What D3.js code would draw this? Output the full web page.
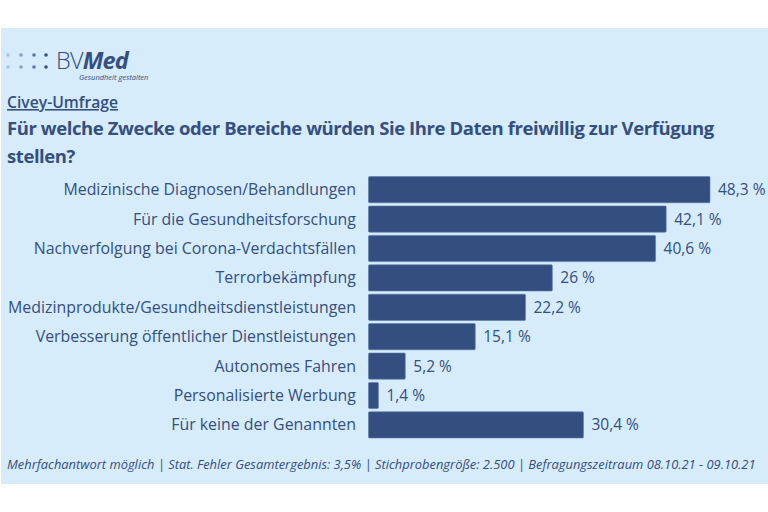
<!DOCTYPE html>
<html>
<head>
<meta charset="utf-8">
<script src="https://cdn.jsdelivr.net/npm/d3@7"></script>
<style>
  html, body { margin: 0; padding: 0; background: #fff; }
  svg { display: block; }
  text { font-family: "Open Sans", sans-serif; fill: #344f80; }
</style>
</head>
<body>
<svg id="chart" width="768" height="512"></svg>
<script>
const categories = [
  "Medizinische Diagnosen/Behandlungen",
  "Für die Gesundheitsforschung",
  "Nachverfolgung bei Corona-Verdachtsfällen",
  "Terrorbekämpfung",
  "Medizinprodukte/Gesundheitsdienstleistungen",
  "Verbesserung öffentlicher Dienstleistungen",
  "Autonomes Fahren",
  "Personalisierte Werbung",
  "Für keine der Genannten"
];
const values = [48.3, 42.1, 40.6, 26, 22.2, 15.1, 5.2, 1.4, 30.4];
const titleLines = [
  "Für welche Zwecke oder Bereiche würden Sie Ihre Daten freiwillig zur Verfügung",
  "stellen?"
];
const kicker = "Civey-Umfrage";
const footnote = "Mehrfachantwort möglich | Stat. Fehler Gesamtergebnis: 3,5% | Stichprobengröße: 2.500 | Befragungszeitraum 08.10.21 - 09.10.21";

const blue = "#344f80";
const svg = d3.select("#chart");

// panel background
svg.append("rect")
  .attr("x", 1).attr("y", 28)
  .attr("width", 767).attr("height", 456)
  .attr("fill", "#d6ecfa");

// logo
const logo = svg.append("g");
[8, 21, 34, 46].forEach((x, i) => {
  [55, 67].forEach(y => {
    logo.append("circle")
      .attr("cx", x).attr("cy", y)
      .attr("r", 1.8)
      .attr("fill", blue)
      .attr("opacity", 0.25 + i * 0.25);
  });
});
const logoText = logo.append("text")
  .attr("x", 56).attr("y", 69)
  .style("font-size", "23.5px")
  .style("letter-spacing", "-0.8px");
logoText.append("tspan").style("font-weight", 300).text("BV");
logoText.append("tspan").style("font-weight", 700).style("font-style", "italic").text("Med");
logo.append("text")
  .attr("x", 79).attr("y", 80)
  .style("font-size", "7.5px")
  .style("font-style", "italic")
  .text("Gesundheit gestalten");

// headings
svg.append("text")
  .attr("x", 7).attr("y", 108)
  .style("font-size", "15.7px")
  .style("font-weight", 600)
  .style("text-decoration", "underline")
  .text(kicker);

svg.selectAll(".title")
  .data(titleLines)
  .enter()
  .append("text")
  .attr("class", "title")
  .attr("x", 7)
  .attr("y", (d, i) => 135 + i * 28)
  .style("font-size", "18.5px")
  .style("font-weight", 700)
  .style("letter-spacing", "-0.42px")
  .text(d => d);

// scales
const x = d3.scaleLinear().domain([0, 48.3]).range([368.5, 710]);
const y = d3.scaleBand()
  .domain(categories)
  .range([175, 439.6])
  .paddingInner(0.11)
  .paddingOuter(0.055);

// bars
svg.selectAll(".bar")
  .data(values)
  .enter()
  .append("rect")
  .attr("class", "bar")
  .attr("x", x(0))
  .attr("y", (d, i) => y(categories[i]))
  .attr("width", d => x(d) - x(0))
  .attr("height", y.bandwidth())
  .attr("rx", 1)
  .attr("fill", "#334e7f")
  .attr("stroke", "#5b7bab")
  .attr("stroke-width", 0.6);

// category labels
svg.selectAll(".cat")
  .data(categories)
  .enter()
  .append("text")
  .attr("class", "cat")
  .attr("x", 356)
  .attr("y", d => y(d) + y.bandwidth() / 2)
  .attr("dy", "0.35em")
  .attr("text-anchor", "end")
  .style("font-size", "15.9px")
  .text(d => d);

// value labels
svg.selectAll(".val")
  .data(values)
  .enter()
  .append("text")
  .attr("class", "val")
  .attr("x", d => x(d) + 8)
  .attr("y", (d, i) => y(categories[i]) + y.bandwidth() / 2)
  .attr("dy", "0.35em")
  .style("font-size", "15.5px")
  .text(d => String(d).replace(".", ",") + " %");

// footnote
svg.append("text")
  .attr("x", 7).attr("y", 468.5)
  .style("font-size", "12.9px")
  .style("font-style", "italic")
  .text(footnote);
</script>
</body>
</html>
